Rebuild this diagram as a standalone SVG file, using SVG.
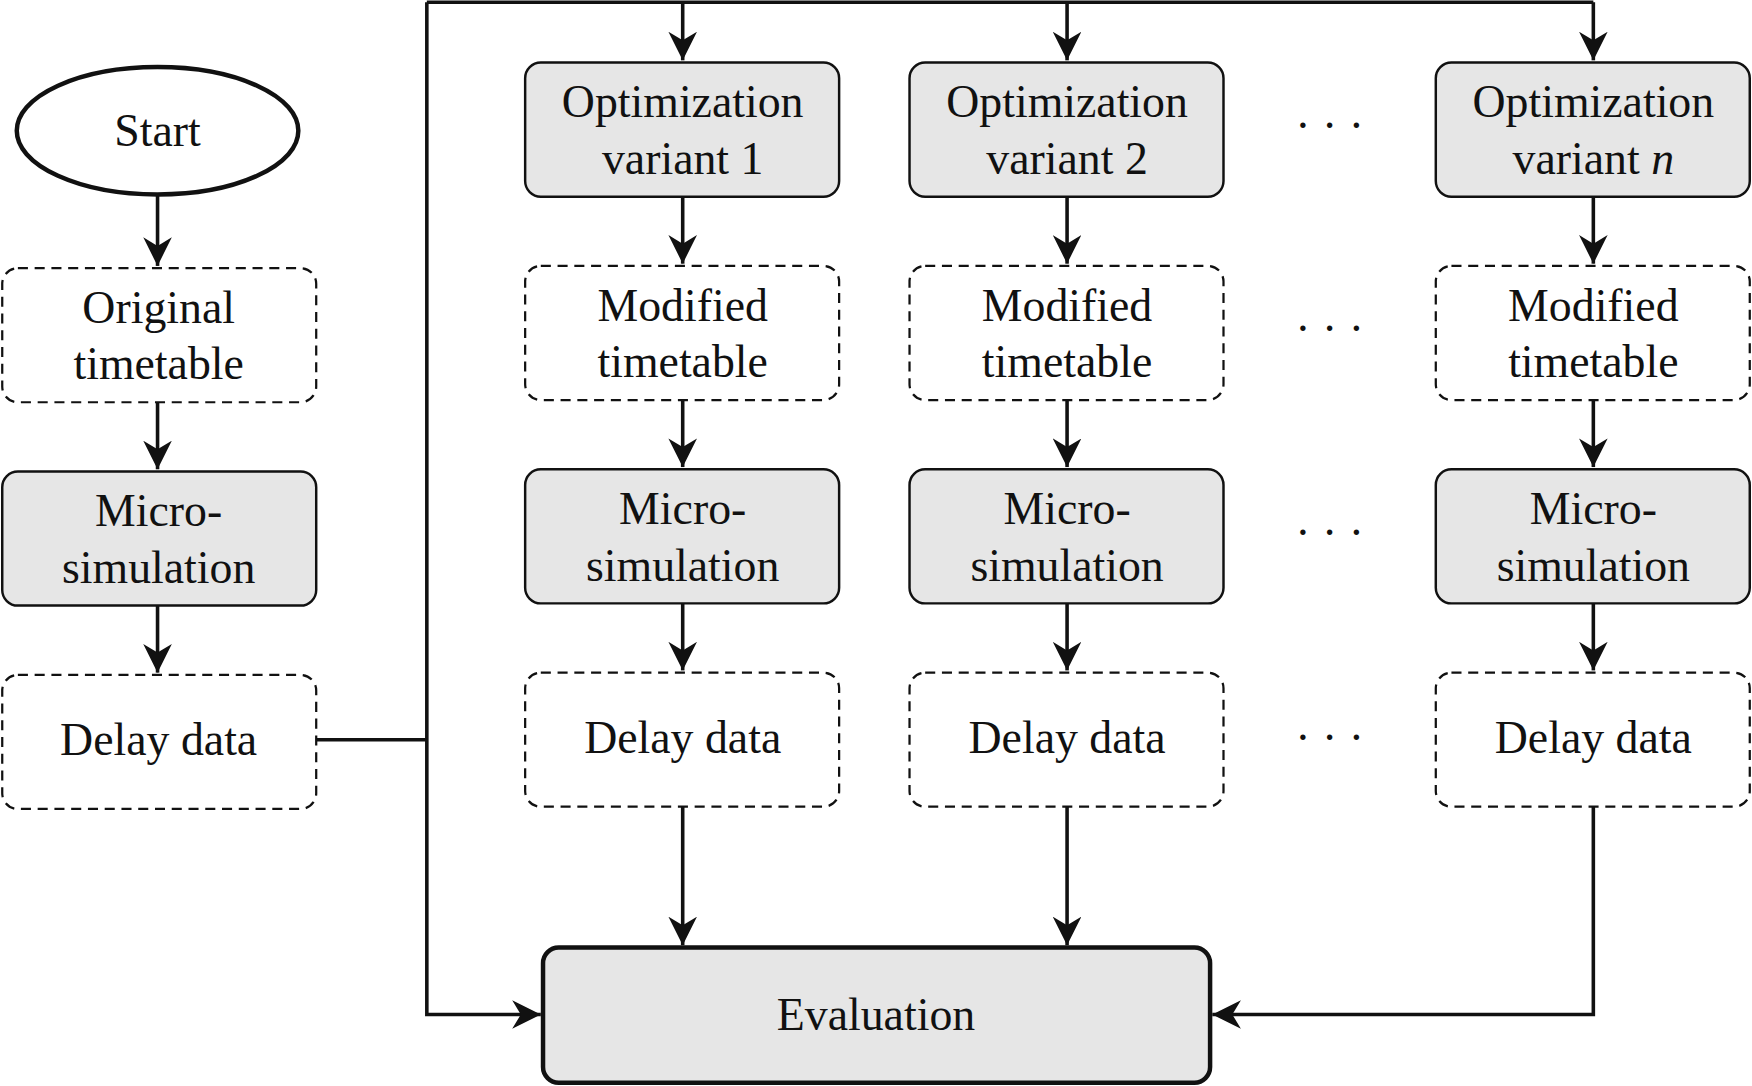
<svg xmlns="http://www.w3.org/2000/svg" width="1752" height="1086" viewBox="0 0 1752 1086">
<style>
.t{font-family:"Liberation Serif","DejaVu Serif",serif;font-size:41px;fill:#111;text-anchor:middle}
.g{fill:#e6e6e6;stroke:#111;stroke-width:2.2}
.d{fill:#fff;stroke:#111;stroke-width:2;stroke-dasharray:9 6}
.c{fill:none;stroke:#111;stroke-width:3.2}
</style>
<defs><marker id="b" viewBox="0 0 10 10" refX="10" refY="5" markerWidth="8" markerHeight="8" orient="auto"><path d="M0,0 L10,5 L0,10 L3,5 z" fill="#111"/></marker></defs>
<rect width="1752" height="1086" fill="#fff"/>
<g transform="scale(1.11735)">
<g id="connectors" class="c">
<path d="M141,175 V238" marker-end="url(#b)"/>
<path d="M141,360 V420" marker-end="url(#b)"/>
<path d="M141,542 V602" marker-end="url(#b)"/>
<path d="M283,662 H382"/>
<path d="M382,2 H1426"/>
<path d="M382,2 V908 H484" marker-end="url(#b)"/>
<path d="M611,2 V54" marker-end="url(#b)"/>
<path d="M955,2 V54" marker-end="url(#b)"/>
<path d="M1426,2 V54" marker-end="url(#b)"/>
<path d="M611,176 V236" marker-end="url(#b)"/><path d="M955,176 V236" marker-end="url(#b)"/><path d="M1426,176 V236" marker-end="url(#b)"/>
<path d="M611,358 V418" marker-end="url(#b)"/><path d="M955,358 V418" marker-end="url(#b)"/><path d="M1426,358 V418" marker-end="url(#b)"/>
<path d="M611,540 V600" marker-end="url(#b)"/><path d="M955,540 V600" marker-end="url(#b)"/><path d="M1426,540 V600" marker-end="url(#b)"/>
<path d="M611,722 V846" marker-end="url(#b)"/><path d="M955,722 V846" marker-end="url(#b)"/>
<path d="M1426,722 V908 H1085" marker-end="url(#b)"/>
</g>
<g id="start"><ellipse cx="141" cy="117" rx="126" ry="57" fill="#fff" stroke="#111" stroke-width="4"/><text class="t" x="141" y="131">Start</text></g>
<g id="orig"><rect class="d" x="2" y="240" width="281" height="120" rx="14"/><text class="t" x="142" y="289">Original</text><text class="t" x="142" y="339">timetable</text></g>
<g id="micro0"><rect class="g" x="2" y="422" width="281" height="120" rx="14"/><text class="t" x="142" y="471">Micro-</text><text class="t" x="142" y="522">simulation</text></g>
<g id="delay0"><rect class="d" x="2" y="604" width="281" height="120" rx="14"/><text class="t" x="142" y="676">Delay data</text></g>
<g id="opt1"><rect class="g" x="470" y="56" width="281" height="120" rx="14"/><text class="t" x="611" y="105">Optimization</text><text class="t" x="611" y="156">variant 1</text></g>
<g id="mod1"><rect class="d" x="470" y="238" width="281" height="120" rx="14"/><text class="t" x="611" y="287">Modified</text><text class="t" x="611" y="337">timetable</text></g>
<g id="micro1"><rect class="g" x="470" y="420" width="281" height="120" rx="14"/><text class="t" x="611" y="469">Micro-</text><text class="t" x="611" y="520">simulation</text></g>
<g id="delay1"><rect class="d" x="470" y="602" width="281" height="120" rx="14"/><text class="t" x="611" y="674">Delay data</text></g>
<g id="opt2"><rect class="g" x="814" y="56" width="281" height="120" rx="14"/><text class="t" x="955" y="105">Optimization</text><text class="t" x="955" y="156">variant 2</text></g>
<g id="mod2"><rect class="d" x="814" y="238" width="281" height="120" rx="14"/><text class="t" x="955" y="287">Modified</text><text class="t" x="955" y="337">timetable</text></g>
<g id="micro2"><rect class="g" x="814" y="420" width="281" height="120" rx="14"/><text class="t" x="955" y="469">Micro-</text><text class="t" x="955" y="520">simulation</text></g>
<g id="delay2"><rect class="d" x="814" y="602" width="281" height="120" rx="14"/><text class="t" x="955" y="674">Delay data</text></g>
<g id="optn"><rect class="g" x="1285" y="56" width="281" height="120" rx="14"/><text class="t" x="1426" y="105">Optimization</text><text class="t" x="1426" y="156">variant <tspan font-style="italic">n</tspan></text></g>
<g id="modn"><rect class="d" x="1285" y="238" width="281" height="120" rx="14"/><text class="t" x="1426" y="287">Modified</text><text class="t" x="1426" y="337">timetable</text></g>
<g id="micron"><rect class="g" x="1285" y="420" width="281" height="120" rx="14"/><text class="t" x="1426" y="469">Micro-</text><text class="t" x="1426" y="520">simulation</text></g>
<g id="delayn"><rect class="d" x="1285" y="602" width="281" height="120" rx="14"/><text class="t" x="1426" y="674">Delay data</text></g>
<g id="dots"><text class="t" x="1190" y="126">· · ·</text><text class="t" x="1190" y="308">· · ·</text><text class="t" x="1190" y="490">· · ·</text><text class="t" x="1190" y="674">· · ·</text></g>
<g id="eval"><rect x="486" y="848" width="597" height="121" rx="14" style="fill:#e6e6e6;stroke:#111;stroke-width:4"/><text class="t" x="784" y="922">Evaluation</text></g>
</g>
</svg>
